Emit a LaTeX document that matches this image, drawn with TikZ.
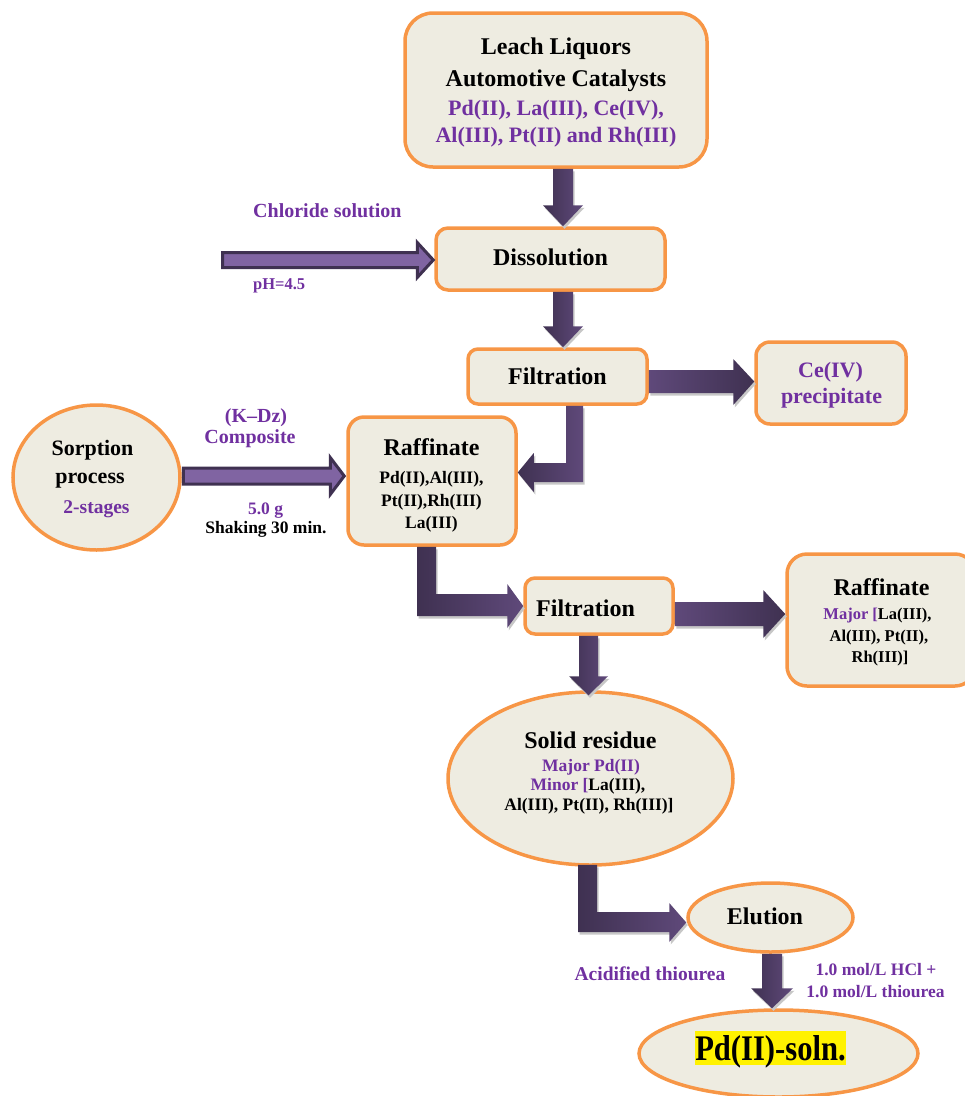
\documentclass[tikz,border=0pt]{standalone}
\usepackage{fontspec}
\setmainfont{Liberation Serif}
\usepackage{graphicx}
\usetikzlibrary{shapes.geometric,calc}
\definecolor{orng}{HTML}{F79646}
\definecolor{bg}{HTML}{EEECE1}
\definecolor{pur}{HTML}{7030A0}
\definecolor{ardk}{HTML}{3F3151}
\definecolor{arlt}{HTML}{5F497A}
\definecolor{inpur}{HTML}{8064A2}
\begin{document}
\begin{tikzpicture}[x=1pt,y=-1pt,
 box/.style={draw=orng, line width=3.5pt, fill=bg, inner sep=0pt},
 oval/.style={ellipse, draw=orng, line width=3.5pt, fill=bg, inner sep=0pt},
 lbl/.style={inner sep=0pt, anchor=base},
 s24/.style={font=\bfseries\fontsize{24}{28}\selectfont},
 s22/.style={font=\bfseries\fontsize{22}{26}\selectfont},
 s20/.style={font=\bfseries\fontsize{20}{24}\selectfont},
 s19/.style={font=\bfseries\fontsize{19.5}{23}\selectfont},
 s17/.style={font=\bfseries\fontsize{17.5}{21}\selectfont},
 s16/.style={font=\bfseries\fontsize{16.5}{20}\selectfont},
 pc/.style={text=pur},
 darkarrow/.style={left color=ardk, right color=arlt, draw=none,
   preaction={fill=black!22, transform canvas={xshift=1.5pt,yshift=-2.5pt}}},
 inarrow/.style={fill=inpur, draw=ardk, line width=3pt, line join=miter},
]
\useasboundingbox (0,0) rectangle (965,1096);
\clip (0,0) rectangle (965,1096);

% ---------- shapes ----------
\node[box, rounded corners=28pt, minimum width=302pt, minimum height=154pt] (leach) at (556,90) {};
\node[box, rounded corners=12pt, minimum width=229pt, minimum height=62pt] (diss) at (550.5,259) {};
\node[box, rounded corners=10pt, minimum width=179pt, minimum height=55pt] (filt) at (557.5,376.5) {};
\node[box, rounded corners=14pt, minimum width=150pt, minimum height=82pt] (ce) at (831,383) {};
\node[oval, minimum width=167pt, minimum height=145pt] (sorp) at (96.5,477.5) {};
\node[box, rounded corners=16pt, minimum width=168pt, minimum height=128pt] (raf) at (432,481) {};
\node[box, rounded corners=10pt, minimum width=148pt, minimum height=56pt] (filt2) at (599,606) {};
\node[box, rounded corners=20pt, minimum width=188pt, minimum height=132pt] (raf2) at (881,620) {};
\node[oval, minimum width=285pt, minimum height=173pt] (solid) at (590.5,778.5) {};
\node[oval, minimum width=165pt, minimum height=69pt] (elu) at (770.5,917.5) {};
\node[oval, minimum width=279pt, minimum height=87pt] (pd) at (778.5,1053.5) {};
\coordinate (clin) at (222.5,260);

% ---------- arrows ----------
% leach -> dissolution
\path[darkarrow] let \p1=(leach.south), \p2=(diss.north) in
 (553pt,\y1) -- (573pt,\y1) -- (573pt,\y2+21pt) -- (583pt,\y2+21pt) -- (563pt,\y2)
 -- (543pt,\y2+21pt) -- (553pt,\y2+21pt) -- cycle;
% dissolution -> filtration
\path[darkarrow] let \p1=(diss.south), \p2=(filt.north) in
 (553pt,\y1) -- (573pt,\y1) -- (573pt,\y2+21pt) -- (583pt,\y2+21pt) -- (563pt,\y2)
 -- (543pt,\y2+21pt) -- (553pt,\y2+21pt) -- cycle;
% filtration -> Ce(IV)
\path[darkarrow, left color=arlt, right color=ardk] let \p1=(filt.east), \p2=(ce.west) in
 (\x1,-370pt) -- (\x2-21pt,-370pt) -- (\x2-21pt,-359pt) -- (\x2,-381.5pt)
 -- (\x2-21pt,-405pt) -- (\x2-21pt,-393pt) -- (\x1,-393pt) -- cycle;
% filtration -> raffinate (elbow)
\path[darkarrow] let \p1=(filt.south), \p2=(raf.east) in
 (566pt,\y1) -- (583pt,\y1) -- (583pt,-482pt) -- (\x2+16pt,-482pt) -- (\x2+16pt,-492pt)
 -- (\x2,-472.5pt) -- (\x2+16pt,-453pt) -- (\x2+16pt,-463pt) -- (566pt,-463pt) -- cycle;
% chloride solution -> dissolution
\path[inarrow] let \p1=(clin), \p2=(diss.west) in
 (\x1,\y1-7.5pt) -- (\x2-17pt,\y1-7.5pt) -- (\x2-17pt,\y1-17.5pt) -- (\x2-1pt,\y1)
 -- (\x2-17pt,\y1+17.5pt) -- (\x2-17pt,\y1+7.5pt) -- (\x1,\y1+7.5pt) -- cycle;
% sorption -> raffinate
\path[inarrow] let \p1=(sorp.east), \p2=(raf.west) in
 (\x1+1.5pt,-468pt) -- (\x2-16pt,-468pt) -- (\x2-16pt,-457.5pt) -- (\x2-2pt,-476pt)
 -- (\x2-16pt,-494.5pt) -- (\x2-16pt,-484pt) -- (\x1+1.5pt,-484pt) -- cycle;
% raffinate -> filtration 2 (elbow)
\path[darkarrow] let \p1=(raf.south), \p2=(filt2.west) in
 (417pt,\y1) -- (436pt,\y1) -- (436pt,-594pt) -- (\x2-16pt,-594pt) -- (\x2-16pt,-584pt)
 -- (\x2,-606pt) -- (\x2-16pt,-628pt) -- (\x2-16pt,-616pt) -- (417pt,-616pt) -- cycle;
% filtration 2 -> raffinate 2
\path[darkarrow, left color=arlt, right color=ardk] let \p1=(filt2.east), \p2=(raf2.west) in
 (\x1,-602pt) -- (\x2-22pt,-602pt) -- (\x2-22pt,-590pt) -- (\x2,-614pt)
 -- (\x2-22pt,-638pt) -- (\x2-22pt,-626pt) -- (\x1,-626pt) -- cycle;
% filtration 2 -> solid residue
\path[darkarrow] let \p1=(filt2.south), \p2=(solid.north) in
 (579pt,\y1) -- (598pt,\y1) -- (598pt,\y2+14pt) -- (608pt,\y2+14pt) -- (588.5pt,\y2-5pt)
 -- (569pt,\y2+14pt) -- (579pt,\y2+14pt) -- cycle;
% solid residue -> elution (elbow)
\path[darkarrow] let \p1=(solid.south), \p2=(elu.west) in
 (578pt,\y1+2pt) -- (597pt,\y1+2pt) -- (597pt,-912pt) -- (\x2-17pt,-912pt) -- (\x2-17pt,-903pt)
 -- (\x2,-922.5pt) -- (\x2-17pt,-942pt) -- (\x2-17pt,-932pt) -- (578pt,-932pt) -- cycle;
% elution -> Pd(II) solution
\path[darkarrow] let \p1=(elu.south), \p2=(pd.north) in
 (762pt,\y1) -- (782pt,\y1) -- (782pt,\y2+20pt) -- (793pt,\y2+20pt) -- (772pt,\y2)
 -- (751pt,\y2+20pt) -- (762pt,\y2+20pt) -- cycle;

% ---------- texts ----------
\node[lbl,s24] (t1) at (556,54) {Leach Liquors};
\node[lbl,s24] (t2) at (556,86) {Automotive Catalysts};
\node[lbl,s22,pc] (t3) at (556,115) {Pd(II), La(III), Ce(IV),};
\node[lbl,s22,pc] (t4) at (556,142) {Al(III), Pt(II) and Rh(III)};
\node[lbl,s20,pc,anchor=base west] (t5) at (253,217) {Chloride solution};
\node[lbl,s16,pc,anchor=base west] (t6) at (253,289) {pH=4.5};
\node[lbl,s24] (t7) at (550.5,265) {Dissolution};
\node[lbl,s24] (t8) at (557.5,384) {Filtration};
\node[lbl,s22,pc] (t9) at (830.5,377) {Ce(IV)};
\node[lbl,s22,pc] (t10) at (831.5,403) {precipitate};
\node[lbl,s22] (t11) at (92.5,455) {Sorption};
\node[lbl,s22] (t12) at (90,483) {process};
\node[lbl,s19,pc] (t13) at (96.5,513) {2-stages};
\node[lbl,s20,pc] (t14) at (256,422) {(K–Dz)};
\node[lbl,s20,pc] (t15) at (250,443) {Composite};
\node[lbl,s17,pc] (t16) at (265.5,514) {5.0 g};
\node[lbl,s17] (t17) at (266,533) {Shaking 30 min.};
\node[lbl,s24] (t18) at (431.5,455) {Raffinate};
\node[lbl,s17] (t19) at (431.5,483) {Pd(II),Al(III),};
\node[lbl,s17] (t20) at (431.5,506) {Pt(II),Rh(III)};
\node[lbl,s17] (t21) at (431.5,528) {La(III)};
\node[lbl,s24,anchor=base west] (t22) at (536,616) {Filtration};
\node[lbl,s24] (t23) at (881.5,595) {Raffinate};
\node[lbl,s16] (t24) at (877.5,619) {\textcolor{pur}{Major [}La(III),};
\node[lbl,s16] (t25) at (879,641) {Al(III), Pt(II),};
\node[lbl,s16] (t26) at (880,662) {Rh(III)]};
\node[lbl,s24] (t27) at (590.5,748) {Solid residue};
\node[lbl,s17,pc] (t28) at (591,771) {Major Pd(II)};
\node[lbl,s17] (t29) at (588,790) {\textcolor{pur}{Minor [}La(III),};
\node[lbl,s17] (t30) at (589,810) {Al(III), Pt(II), Rh(III)]};
\node[lbl,s24] (t31) at (765,924) {Elution};
\node[lbl,s19,pc] (t32) at (650,980) {Acidified thiourea};
\node[lbl,s17,pc] (t33) at (876,975) {1.0 mol/L HCl +};
\node[lbl,s17,pc] (t34) at (875.5,997) {1.0 mol/L thiourea};
\node[lbl, fill=yellow, text height=29pt, text depth=5pt] (t35) at (770.5,1060)
 {\scalebox{0.85}[1]{\fontsize{36}{40}\selectfont\bfseries Pd(II)-soln.}};
\end{tikzpicture}
\end{document}
